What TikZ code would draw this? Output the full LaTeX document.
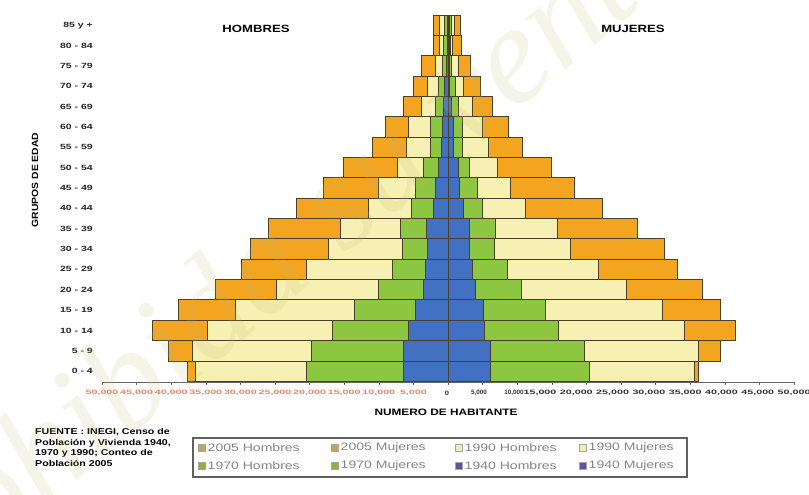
\documentclass[tikz,border=0pt]{standalone}
\usepackage{fontspec}
\usepackage{graphicx}
\setmainfont{Liberation Sans}
\newfontfamily\wmfont{Liberation Serif}
\definecolor{cOr}{HTML}{F4A51F}
\definecolor{cYe}{HTML}{F6F1B2}
\definecolor{cGr}{HTML}{8DC641}
\definecolor{cBl}{HTML}{4271C4}
\definecolor{cEdge}{HTML}{4A3F2A}
\definecolor{cRed}{HTML}{E8866A}
\definecolor{cLgTxt}{HTML}{858585}
\definecolor{lg05}{HTML}{C4A35A}
\definecolor{lg90}{HTML}{F0EDB0}
\definecolor{lg70}{HTML}{8DB33A}
\definecolor{lg40}{HTML}{5B55A8}
\newcommand\sx[2]{\scalebox{#1}[1]{#2}}
\tikzset{
  barbox/.style={draw=cEdge, line width=0.9pt},
  ylab/.style={anchor=east, inner sep=0pt, font=\fontsize{7.5}{8}\selectfont\bfseries, text=black!85},
  ticklab/.style={inner sep=0pt, font=\fontsize{6.3}{7}\selectfont\bfseries},
  lgsq/.style={draw=gray!70, line width=0.4pt},
  lgtxt/.style={anchor=west, inner sep=0pt, text=cLgTxt, font=\fontsize{10.8}{11}\selectfont},
}
\begin{document}
\begin{tikzpicture}[x=1pt,y=-1pt]
\useasboundingbox (0,0) rectangle (809,495);
\fill[white] (0,0) rectangle (809,495);

% bars: row / orange-left / yellow-left / green-left / blue-left / blue-right / green-right / yellow-right / orange-right
\foreach \i/\lo/\ly/\lg/\lb/\rb/\rg/\ry/\ro in {
 0/433/439/444/447/449/451/454/460,
 1/433/439/443/447/449/450/452/461,
 2/421/435/442/446/449/451/458/470,
 3/413/427/438/444/449/455/463/480,
 4/403/421/435/443/451/458/472/492,
 5/385/408/430/442/453/462/482/508,
 6/372/406/430/441/453/462/488/522,
 7/343/397/423/438/458/469/497/551,
 8/323/378/415/435/459/477/510/574,
 9/296/368/411/433/463/482/525/602,
 10/268/340/400/426/469/495/557/637,
 11/250/328/402/427/469/494/570/664,
 12/241/306/392/425/472/507/598/677,
 13/215/276/378/423/475/521/626/702,
 14/178/235/354/415/483/545/662/720,
 15/152/207/332/408/484/558/684/735,
 16/168/192/311/403/490/584/698/720,
 17/187/195/306/403/490/589/694/698}{
  \pgfmathsetmacro\t{15+\i*20.35}
  \pgfmathsetmacro\b{\t+20.35}
  \fill[cOr, barbox] (\lo,\t) rectangle (448,\b);
  \fill[cOr, barbox] (448,\t) rectangle (\ro,\b);
  \fill[cYe, barbox] (\ly,\t) rectangle (448,\b);
  \fill[cYe, barbox] (448,\t) rectangle (\ry,\b);
  \fill[cGr, barbox] (\lg,\t) rectangle (448,\b);
  \fill[cGr, barbox] (448,\t) rectangle (\rg,\b);
  \fill[cBl, barbox] (\lb,\t) rectangle (448,\b);
  \fill[cBl, barbox] (448,\t) rectangle (\rb,\b);
}
\draw[cEdge, line width=1pt] (448,15) -- (448,381.3);

% age labels
\foreach \i/\lab in {0/85 y +,1/80 - 84,2/75 - 79,3/70 - 74,4/65 - 69,5/60 - 64,6/55 - 59,7/50 - 54,8/45 - 49,9/40 - 44,10/35 - 39,11/30 - 34,12/25 - 29,13/20 - 24,14/15 - 19,15/10 - 14,16/5 - 9,17/0 - 4}{
  \node[ylab] (age\i) at (93,{25.2+\i*20.35}) {\sx{1.4}{\lab}};
}

% axis
\draw[gray!80!black, line width=0.6pt] (101.5,382.5) -- (794.5,382.5);
\foreach \k in {-10,...,10}{
  \draw[gray!80!black, line width=0.5pt] ({448+34.6*\k},382.5) -- ++(0,2.5);
}
% left tick labels (red)
\foreach \k/\lab in {10/50,9/45,8/40,7/35,6/30,5/25,4/20,3/15,2/10,1/5}{
  \node[ticklab, text=cRed] (tl\k) at ({448-34.6*\k},393) {\sx{1.7}{\lab,000}};
}
\node[ticklab, text=black!80] (t0) at (447,393) {\sx{1.2}{0}};
\node[ticklab, text=black!80] (tr1) at (479,393) {\sx{1.0}{5,000}};
\node[ticklab, text=black!80] (tr2) at (514,393) {\sx{1.0}{10,000}};
\foreach \k/\lab in {3/15,4/20,5/25,6/30,7/35,8/40,9/45,10/50}{
  \node[ticklab, text=black!80] (tr\k) at ({540+36.3*(\k-3)},393) {\sx{1.7}{\lab,000}};
}

% titles
\node[inner sep=0pt, font=\fontsize{10.5}{11}\selectfont\bfseries] (hom) at (256,29) {\sx{1.25}{HOMBRES}};
\node[inner sep=0pt, font=\fontsize{10.5}{11}\selectfont\bfseries] (muj) at (633,29) {\sx{1.25}{MUJERES}};
\node[inner sep=0pt, rotate=90, font=\fontsize{9}{10}\selectfont\bfseries] (grp) at (35,180) {\sx{1.15}{GRUPOS DE EDAD}};
\node[inner sep=0pt, font=\fontsize{9.3}{10}\selectfont\bfseries] (num) at (446,412) {\sx{1.27}{NUMERO DE HABITANTE}};

% source
\node[anchor=west, inner sep=0pt, font=\fontsize{8.5}{10.5}\selectfont\bfseries] (src) at (35,448.5)
  {\sx{1.25}{\begin{tabular}{@{}l@{}}FUENTE : INEGI, Censo de\\Población y Vivienda 1940,\\1970 y 1990; Conteo de\\Población 2005\end{tabular}}};

% legend
\draw[draw=gray!75!black, line width=1.5pt] (193,438) rectangle (687,477);
\foreach \x/\c/\lab/\y in {202/lg05/2005 Hombres/448, 335/lg05/2005 Mujeres/448, 459/lg90/1990 Hombres/448, 583/lg90/1990 Mujeres/448,
                          202/lg70/1970 Hombres/466, 335/lg70/1970 Mujeres/466, 459/lg40/1940 Hombres/466, 583/lg40/1940 Mujeres/466}{
  \fill[\c, lgsq] ({\x-3.6},{\y-3.6}) rectangle ({\x+3.6},{\y+3.6});
  \node[lgtxt] at ({\x+5.5},\y) {\sx{1.3}{\lab}};
}

% watermark
\begin{scope}
\clip (0,0) rectangle (809,495);
\node[anchor=base west, inner sep=0pt, rotate=40, text=gray!60!yellow, opacity=0.15,
      font=\fontsize{140}{140}\selectfont\wmfont\itshape] (wm) at (-114,640) {Prohibida su venta};
\end{scope}
\end{tikzpicture}
\end{document}
